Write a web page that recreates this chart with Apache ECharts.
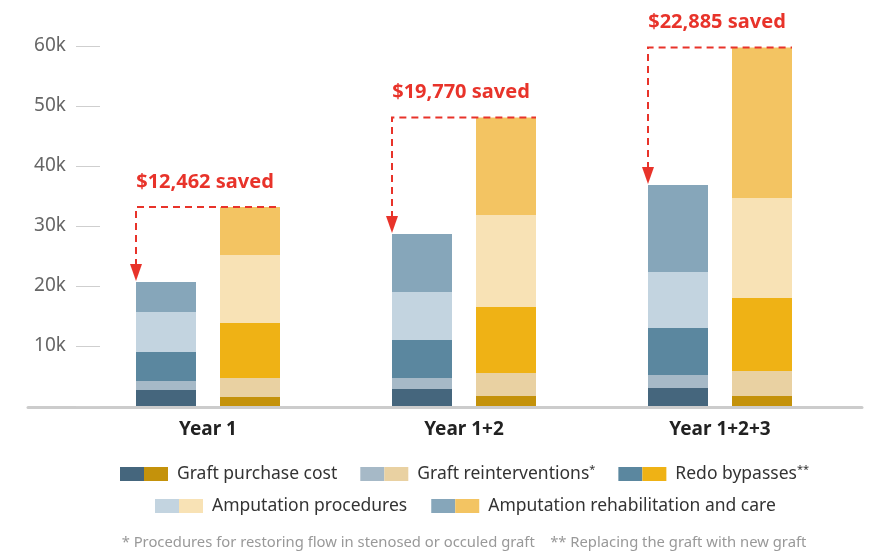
<!DOCTYPE html>
<html>
<head>
<meta charset="utf-8">
<script src="https://cdn.jsdelivr.net/npm/echarts@6/dist/echarts.min.js"></script>
<style>
    html, body { margin: 0; padding: 0; background: #fff; }
    #chart { width: 873px; height: 555px; }
</style>
</head>
<body>
<div id="chart"></div>
<script>
    const categories = ['Year 1', 'Year 1+2', 'Year 1+2+3']
    const costNames = [
        'Graft purchase cost',
        'Graft reinterventions',
        'Redo bypasses',
        'Amputation procedures',
        'Amputation rehabilitation and care'
    ]
    const costMarks = ['', '*', '**', '', '']

    // left bar (blue), one array per cost item
    const bluePurchase = [2670, 2830, 3000]
    const blueReinterventions = [1500, 1830, 2170]
    const blueRedo = [4830, 6330, 7830]
    const blueAmputation = [6670, 8000, 9330]
    const blueRehab = [5000, 9670, 14500]

    // right bar (gold)
    const goldPurchase = [1500, 1670, 1670]
    const goldReinterventions = [3170, 3830, 4170]
    const goldRedo = [9170, 11000, 12170]
    const goldAmputation = [11330, 15330, 16670]
    const goldRehab = [8000, 16270, 25050]

    const savedLabels = ['$12,462 saved', '$19,770 saved', '$22,885 saved']
    const yTicks = [0, 10000, 20000, 30000, 40000, 50000, 60000]

    const blueData = [bluePurchase, blueReinterventions, blueRedo, blueAmputation, blueRehab]
    const goldData = [goldPurchase, goldReinterventions, goldRedo, goldAmputation, goldRehab]

    const blueColors = ['#45667d', '#a6b9c7', '#5b879f', '#c3d4e0', '#86a6ba']
    const goldColors = ['#c4920b', '#e9d1a2', '#efb215', '#f8e2b5', '#f3c462']
    const red = '#e8332a'
    const font = '"Noto Sans", sans-serif'

    const sum = (arrs, i) => arrs.reduce((s, a) => s + a[i], 0)
    const savingData = categories.map((c, i) => [i, sum(blueData, i), sum(goldData, i)])

    let myChart = echarts.init(document.getElementById('chart'))

    // rich swatches for the two-colour legend keys
    const rich = {
        t: { fontSize: 17.5, color: '#333', fontFamily: font, padding: [0, 0, 0, 9] },
        sup: { fontSize: 11, color: '#333', fontFamily: font, verticalAlign: 'top', lineHeight: 12 }
    }
    costNames.forEach((n, k) => {
        rich['b' + k] = { width: 24, height: 14, backgroundColor: blueColors[k] }
        rich['g' + k] = { width: 24, height: 14, backgroundColor: goldColors[k] }
    })
    const legendText = name => {
        const k = costNames.indexOf(name)
        let s = '{b' + k + '| }{g' + k + '| }{t|' + name + '}'
        if (costMarks[k]) s += '{sup|' + costMarks[k] + '}'
        return s
    }
    const legendBase = {
        padding: 0,
        itemWidth: 0,
        itemHeight: 14,
        itemStyle: { opacity: 0 },
        selectedMode: false,
        formatter: legendText,
        textStyle: { rich: rich, lineHeight: 20 }
    }

    function renderSaving(params, api) {
        const i = api.value(0)
        const low = api.coord([i, api.value(1)])
        const top = api.coord([i, api.value(2)])
        const cx = top[0]
        const xl = cx - 72
        const xr = cx + 72
        return {
            type: 'group',
            children: [
                {
                    type: 'polyline',
                    shape: { points: [[xl, low[1] - 16], [xl, top[1]], [xr, top[1]]] },
                    style: { stroke: red, lineWidth: 2, lineDash: [7, 5], fill: 'none' }
                },
                {
                    type: 'polygon',
                    shape: { points: [[xl - 6, low[1] - 18], [xl + 6, low[1] - 18], [xl, low[1] - 1]] },
                    style: { fill: red }
                },
                {
                    type: 'text',
                    x: cx - 3,
                    y: top[1] - 25,
                    style: {
                        text: savedLabels[i],
                        fill: red,
                        font: 'bold 20px ' + font,
                        align: 'center',
                        verticalAlign: 'middle'
                    }
                }
            ]
        }
    }

    const series = []
    costNames.forEach((n, k) => {
        series.push({
            name: n, type: 'bar', stack: 'blue', barWidth: 60, barGap: '40%',
            data: blueData[k], itemStyle: { color: blueColors[k] }, silent: true
        })
    })
    costNames.forEach((n, k) => {
        series.push({
            name: n, type: 'bar', stack: 'gold', barWidth: 60, barGap: '40%',
            data: goldData[k], itemStyle: { color: goldColors[k] }, silent: true
        })
    })
    series.push({
        type: 'custom',
        renderItem: renderSaving,
        data: savingData,
        encode: { x: 0, y: 2 },
        z: 10,
        silent: true
    })

    const option = {
        animation: false,
        grid: [
            { left: 80, right: 25, top: 46, bottom: 149, outerBoundsMode: 'none' },
            // long grey base line
            { left: 28, right: 11, top: 46, bottom: 147.5, outerBoundsMode: 'none' }
        ],
        legend: [
            Object.assign({}, legendBase, { left: 115, top: 464, itemGap: 18, data: costNames.slice(0, 3) }),
            Object.assign({}, legendBase, { left: 150, top: 496, itemGap: 19, data: costNames.slice(3) })
        ],
        xAxis: [
            {
                type: 'category',
                data: categories,
                axisLine: { show: false },
                axisTick: { show: false },
                axisLabel: { color: '#222', fontSize: 19, fontWeight: 'bold', fontFamily: font, margin: 14 }
            },
            {
                gridIndex: 1,
                type: 'value',
                min: 0,
                max: 1,
                axisLine: { show: true, lineStyle: { color: '#cccccc', width: 3 } },
                axisTick: { show: false },
                axisLabel: { show: false },
                splitLine: { show: false }
            }
        ],
        yAxis: [
            {
                type: 'value',
                min: yTicks[0],
                max: yTicks[yTicks.length - 1],
                interval: 10000,
                offset: -20,
                axisLine: { show: false },
                axisTick: { show: true, length: 24, lineStyle: { color: '#cfcfcf', width: 1 } },
                axisLabel: {
                    color: '#666',
                    fontSize: 19,
                    fontFamily: font,
                    margin: 34,
                    formatter: v => v === 0 ? '' : v / 1000 + 'k'
                },
                splitLine: { show: false }
            },
            { gridIndex: 1, show: false }
        ],
        graphic: [
            {
                type: 'text',
                x: 464,
                y: 543,
                style: {
                    text: '* Procedures for restoring flow in stenosed or occuled graft    ** Replacing the graft with new graft',
                    fill: '#999',
                    font: '14.8px ' + font,
                    align: 'center',
                    verticalAlign: 'middle'
                }
            }
        ],
        series: series
    }

    myChart.setOption(option)
</script>
</body>
</html>
